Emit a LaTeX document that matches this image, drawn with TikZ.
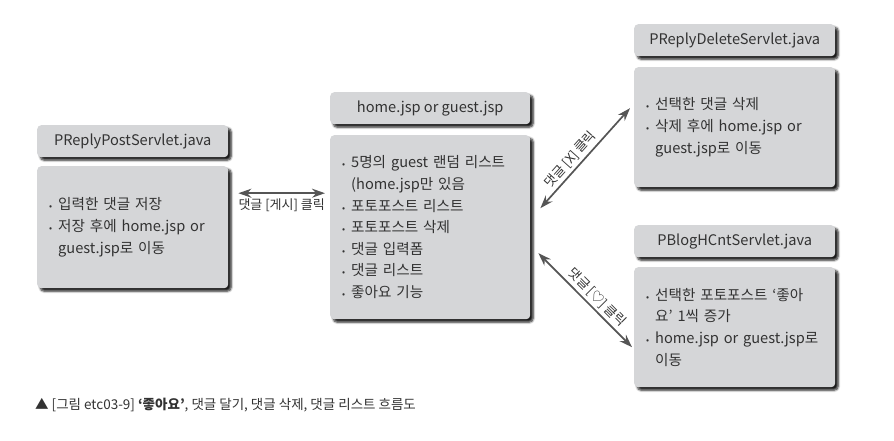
\documentclass[tikz,border=0pt]{standalone}
\usepackage{fontspec}
\setmainfont{Noto Sans CJK KR}
\usetikzlibrary{arrows.meta,shadows.blur}

\definecolor{boxgray}{RGB}{213,214,216}
\definecolor{inkgray}{RGB}{50,50,50}
\definecolor{arrgray}{RGB}{85,85,85}

\newcommand{\itemdot}{\makebox[9pt][l]{\fontsize{9}{9}\selectfont •}}
\newcommand{\itemgap}{\hspace*{9pt}}

\begin{document}
\begin{tikzpicture}[
    x=1pt, y=1pt,
    font=\fontsize{14.6}{21.6}\selectfont,
    >={Stealth[length=13pt,width=9pt]},
    ttl/.style={fill=boxgray, rounded corners=4pt, anchor=north west,
                text=inkgray, minimum height=32pt, inner sep=0pt,
                blur shadow={shadow xshift=3pt, shadow yshift=-3pt,
                             shadow blur steps=6, shadow opacity=90}},
    body/.style={fill=boxgray, rounded corners=4pt, anchor=north west,
                 text=inkgray, align=left, inner xsep=12pt, inner ysep=0pt,
                 blur shadow={shadow xshift=3pt, shadow yshift=-3pt,
                              shadow blur steps=6, shadow opacity=90}},
    lab/.style={font=\fontsize{13}{14}\selectfont, text=inkgray, inner sep=2pt},
    sig/.style={<->, line width=1.7pt, draw=arrgray},
  ]
  \useasboundingbox (0,0) rectangle (894,440);

  %% ---- PReplyPostServlet -------------------------------------------
  \node[ttl, minimum width=191pt] (ppost) at (37,315) {PReplyPostServlet.java};
  \node[body, text width=167pt, minimum height=122pt] (ppostB) at (37,274)
  {\itemdot 입력한 댓글 저장\\
   \itemdot 저장 후에 home.jsp or\\
   \itemgap guest.jsp로 이동};

  %% ---- home.jsp / guest.jsp -----------------------------------------
  \node[ttl, minimum width=200pt] (home) at (330,348) {home.jsp or guest.jsp};
  \node[body, text width=176pt, minimum height=184pt] (homeB) at (330,305)
  {\itemdot 5명의 guest 랜덤 리스트\\
   \itemgap (home.jsp만 있음\\
   \itemdot 포토포스트 리스트\\
   \itemdot 포토포스트 삭제\\
   \itemdot 댓글 입력폼\\
   \itemdot 댓글 리스트\\
   \itemdot 좋아요 기능};

  %% ---- PReplyDeleteServlet ------------------------------------------
  \node[ttl, minimum width=201pt] (pdel) at (634,416) {PReplyDeleteServlet.java};
  \node[body, text width=177pt, minimum height=120pt] (pdelB) at (634,373)
  {\itemdot 선택한 댓글 삭제\\
   \itemdot 삭제 후에 home.jsp or\\
   \itemgap guest.jsp로 이동};

  %% ---- PBlogHCntServlet ---------------------------------------------
  \node[ttl, minimum width=201pt] (pcnt) at (634,215) {PBlogHCntServlet.java};
  \node[body, text width=177pt, minimum height=120pt] (pcntB) at (634,173)
  {\itemdot 선택한 포토포스트 ‘좋아\\
   \itemgap 요’ 1씩 증가\\
   \itemdot home.jsp or guest.jsp로\\
   \itemgap 이동};

  %% ---- requests -------------------------------------------------------
  \draw[sig] ([shift={(10,34)}]ppostB.east)
    -- node[lab, below=3pt] {댓글 [게시] 클릭} ([shift={(-5,34)}]homeB.west);
  \draw[sig] ([shift={(10,19)}]homeB.east)
    -- node[lab, above=1pt, sloped, pos=0.42] {댓글 [X] 클릭} ([shift={(-4,19)}]pdelB.west);
  \draw[sig] ([shift={(8,-26)}]homeB.east)
    -- node[lab, above=1pt, sloped, pos=0.55] {댓글 [♡] 클릭} ([shift={(-2,-20)}]pcntB.west);

  %% ---- caption --------------------------------------------------------
  \node[lab, anchor=west, font=\fontsize{13.5}{14}\selectfont] (cap) at (33,35)
  {▲ [그림 etc03-9] \textbf{‘좋아요’}, 댓글 달기, 댓글 삭제, 댓글 리스트 흐름도};

\end{tikzpicture}
\end{document}
